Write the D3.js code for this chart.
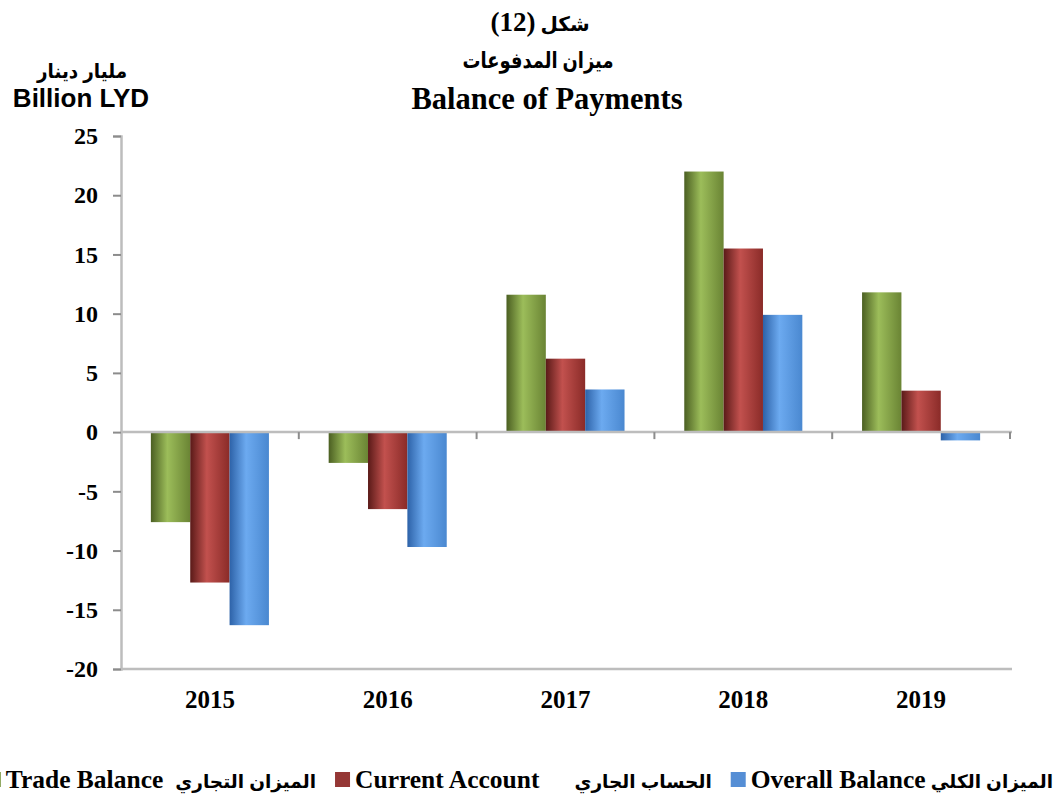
<!DOCTYPE html>
<html>
<head>
<meta charset="utf-8">
<script src="https://cdn.jsdelivr.net/npm/d3@7"></script>
<style>
  body { margin: 0; background: #fff; }
  .serif { font-family: "Liberation Serif", "Times New Roman", "DejaVu Sans", serif; font-weight: bold; }
  .sans { font-family: "Liberation Sans", Arial, "DejaVu Sans", sans-serif; font-weight: bold; }
</style>
</head>
<body>
<div class="box"></div>
<script>
// data
const years = ['2015', '2016', '2017', '2018', '2019'];
const seriesNames = ['Trade Balance', 'Current Account', 'Overall Balance'];
const seriesArabic = ['الميزان التجاري', 'الحساب الجاري', 'الميزان الكلي'];
const tradeBalance = [-7.6, -2.6, 11.6, 22.0, 11.8];
const currentAccount = [-12.7, -6.5, 6.2, 15.5, 3.5];
const overallBalance = [-16.3, -9.7, 3.6, 9.9, -0.7];
const yTicks = [-20, -15, -10, -5, 0, 5, 10, 15, 20, 25];

const seriesValues = [tradeBalance, currentAccount, overallBalance];
const colors = [
  ['#4b5f22', '#9cbd5a', '#6a8434'],
  ['#5a1a18', '#c2514e', '#8a2b28'],
  ['#2d62a8', '#6caaf0', '#4a88d0']
];
const legendColors = ['#77933c', '#953735', '#558ed5'];

const svg = d3.select('.box')
              .append('svg')
              .attr('width', 1062)
              .attr('height', 800);

const margin = {top: 136, left: 121, right: 52, bottom: 131};
const graphWidth = 1062 - margin.left - margin.right;
const graphHeight = 800 - margin.top - margin.bottom;

// gradients for cylinder look
const defs = svg.append('defs');
colors.forEach((c, i) => {
  const g = defs.append('linearGradient')
                .attr('id', 'grad' + i)
                .attr('x1', '0%').attr('x2', '100%')
                .attr('y1', '0%').attr('y2', '0%');
  g.append('stop').attr('offset', '0%').attr('stop-color', c[0]);
  g.append('stop').attr('offset', '42%').attr('stop-color', c[1]);
  g.append('stop').attr('offset', '100%').attr('stop-color', c[2]);
});

const graph = svg.append('g')
                 .attr('transform', `translate(${margin.left}, ${margin.top})`);

const y = d3.scaleLinear()
            .domain([-20, 25])
            .range([graphHeight, 0]);

const x0 = d3.scaleBand()
             .domain(years)
             .range([0, graphWidth])
             .padding(0);

const pad = x0.bandwidth() * 0.168;
const x1 = d3.scaleBand()
             .domain(d3.range(seriesNames.length))
             .range([pad, x0.bandwidth() - pad])
             .padding(0);

// bars
const groups = graph.selectAll('g.year')
                    .data(years)
                    .enter()
                    .append('g')
                    .attr('class', 'year')
                    .attr('transform', d => `translate(${x0(d)}, 0)`);

groups.selectAll('rect')
      .data((d, i) => seriesValues.map((s, k) => ({k: k, v: s[i]})))
      .enter()
      .append('rect')
      .attr('x', d => x1(d.k))
      .attr('width', x1.bandwidth())
      .attr('y', d => y(Math.max(0, d.v)))
      .attr('height', d => Math.abs(y(d.v) - y(0)))
      .attr('fill', d => `url(#grad${d.k})`);

// y axis
const axeY = d3.axisLeft(y)
               .tickValues(yTicks)
               .tickFormat(d => String(d))
               .tickSize(8)
               .tickPadding(15);
const groupeY = graph.append('g').call(axeY);
groupeY.select('.domain').attr('stroke', '#bdbdbd').attr('stroke-width', 2.5);
groupeY.selectAll('.tick line').attr('stroke', '#8c8c8c').attr('stroke-width', 2);
groupeY.selectAll('text')
       .attr('class', 'serif')
       .style('font-size', '24px')
       .attr('fill', '#000');

// zero line and bottom line
const axisColor = '#bdbdbd';
[0, -20].forEach(v => {
  graph.append('line')
       .attr('x1', 0).attr('x2', graphWidth + 2)
       .attr('y1', y(v)).attr('y2', y(v))
       .attr('stroke', axisColor).attr('stroke-width', 2.5);
});

// x ticks at category boundaries on zero line
const bounds = years.map(d => x0(d)).concat([x0.range()[1]]);
graph.selectAll('line.xtick')
     .data(bounds.slice(1))
     .enter()
     .append('line')
     .attr('x1', d => d).attr('x2', d => d)
     .attr('y1', y(0)).attr('y2', y(0) + 7)
     .attr('stroke', '#8c8c8c').attr('stroke-width', 2);

// x labels
const axeX = d3.axisBottom(x0).tickSize(0).tickPadding(21);
const groupeX = graph.append('g')
                     .attr('transform', `translate(0, ${graphHeight})`)
                     .call(axeX);
groupeX.select('.domain').remove();
groupeX.selectAll('text')
       .attr('class', 'serif')
       .style('font-size', '25px')
       .attr('fill', '#000');

// titles
const t1 = svg.append('text').attr('class', 'serif')
              .attr('x', 540).attr('y', 31)
              .attr('text-anchor', 'middle');
t1.append('tspan').style('font-size', '20px').text('شكل ');
t1.append('tspan').style('font-size', '27px').text('(12)');

svg.append('text').attr('class', 'sans')
   .attr('x', 538).attr('y', 68)
   .attr('text-anchor', 'middle')
   .style('font-size', '22px')
   .attr('textLength', 151).attr('lengthAdjust', 'spacingAndGlyphs')
   .text('ميزان المدفوعات');
svg.append('text').attr('class', 'serif')
   .attr('x', 547).attr('y', 109)
   .attr('text-anchor', 'middle')
   .style('font-size', '30.5px')
   .text('Balance of Payments');

svg.append('text').attr('class', 'sans')
   .attr('x', 82).attr('y', 78)
   .attr('text-anchor', 'middle')
   .style('font-size', '20px')
   .attr('textLength', 90).attr('lengthAdjust', 'spacingAndGlyphs')
   .text('مليار دينار');
svg.append('text').attr('class', 'sans')
   .attr('x', 81).attr('y', 107)
   .attr('text-anchor', 'middle')
   .style('font-size', '26px')
   .text('Billion LYD');

// legend, laid out right to left
const legend = svg.append('g');
const legendY = 788;
const innerGap = [12, 35, 5];
let cursor = 1053;
for (let i = seriesNames.length - 1; i >= 0; i--) {
  const ar = legend.append('text').attr('class', 'sans')
                   .attr('x', cursor).attr('y', legendY)
                   .attr('text-anchor', 'end')
                   .style('font-size', '18.5px')
                   .text(seriesArabic[i]);
  cursor -= ar.node().getComputedTextLength() + innerGap[i];
  const en = legend.append('text').attr('class', 'serif')
                   .attr('x', cursor).attr('y', legendY)
                   .attr('text-anchor', 'end')
                   .style('font-size', '25.5px')
                   .text(seriesNames[i]);
  cursor -= en.node().getComputedTextLength() + 5;
  legend.append('rect')
        .attr('x', cursor - 15).attr('y', legendY - 16)
        .attr('width', 15).attr('height', 15)
        .attr('fill', legendColors[i]);
  cursor -= 15 + 19;
}
</script>
</body>
</html>
